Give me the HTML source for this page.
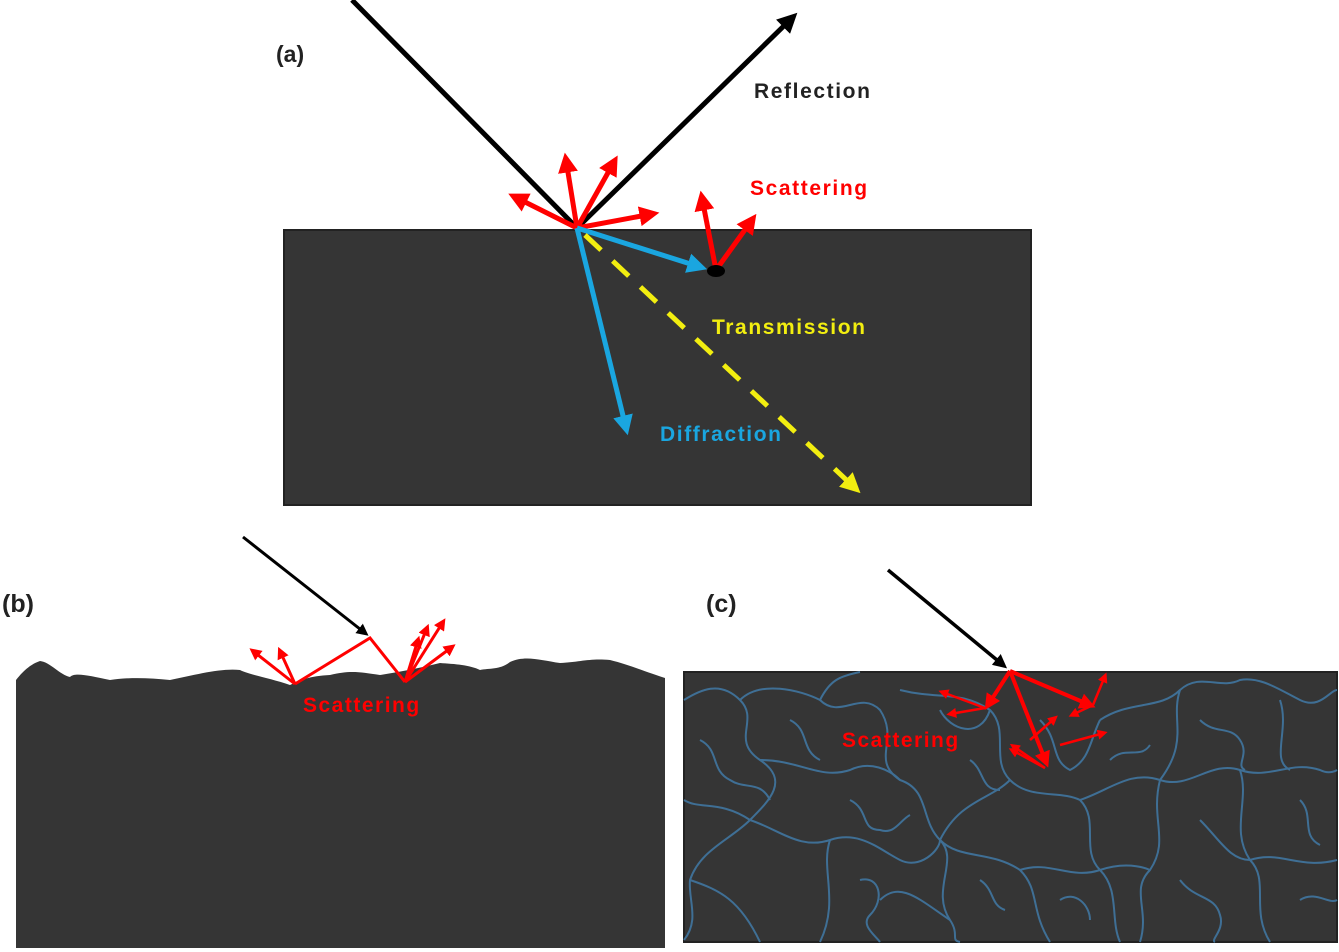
<!DOCTYPE html>
<html><head><meta charset="utf-8"><style>html,body{margin:0;padding:0;background:#fff}svg{display:block}text{font-family:"Liberation Sans","DejaVu Sans",sans-serif;font-weight:bold}</style></head><body>
<svg width="1339" height="952" viewBox="0 0 1339 952" xmlns="http://www.w3.org/2000/svg">
<defs>
<marker id="ak" markerWidth="4" markerHeight="4" refX="2.5" refY="2" orient="auto" markerUnits="strokeWidth"><path d="M0,0L4,2L0,4z" fill="#000"/></marker>
<marker id="ar" markerWidth="4" markerHeight="4" refX="2.5" refY="2" orient="auto" markerUnits="strokeWidth"><path d="M0,0L4,2L0,4z" fill="#f00"/></marker>
<marker id="ab" markerWidth="4" markerHeight="4" refX="2.5" refY="2" orient="auto" markerUnits="strokeWidth"><path d="M0,0L4,2L0,4z" fill="#1aa6e0"/></marker>
<marker id="ay" markerWidth="4" markerHeight="4" refX="2.5" refY="2" orient="auto" markerUnits="strokeWidth"><path d="M0,0L4,2L0,4z" fill="#f2ee10"/></marker>
</defs>
<!-- (a) -->
<rect x="284" y="230" width="747" height="275" fill="#353535" stroke="#222" stroke-width="2"/>
<text x="276" y="62" font-size="23" fill="#222">(a)</text>
<text x="754" y="98" font-size="21" letter-spacing="1.6" fill="#222">Reflection</text>
<text x="750" y="195" font-size="21" letter-spacing="1.6" fill="#f00">Scattering</text>
<text x="712" y="334" font-size="21" letter-spacing="1.6" fill="#f2ee10">Transmission</text>
<text x="660" y="441" font-size="21" letter-spacing="1.6" fill="#1aa6e0">Diffraction</text>
<line x1="352" y1="0" x2="577" y2="228" stroke="#000" stroke-width="5"/>
<line x1="577" y1="228" x2="792" y2="18" stroke="#000" stroke-width="5" marker-end="url(#ak)"/>
<g stroke="#f00" stroke-width="5" marker-end="url(#ar)">
<line x1="577" y1="228" x2="515" y2="197"/>
<line x1="577" y1="228" x2="566" y2="160"/>
<line x1="577" y1="228" x2="614" y2="162"/>
<line x1="577" y1="228" x2="652" y2="214"/>
<line x1="716" y1="270" x2="702" y2="198"/>
<line x1="716" y1="270" x2="752" y2="220"/>
</g>
<line x1="577" y1="228" x2="700" y2="267" stroke="#1aa6e0" stroke-width="5" marker-end="url(#ab)"/>
<line x1="577" y1="228" x2="626" y2="428" stroke="#1aa6e0" stroke-width="5" marker-end="url(#ab)"/>
<line x1="585" y1="235" x2="855" y2="488" stroke="#f2ee10" stroke-width="5" stroke-dasharray="22,16" marker-end="url(#ay)"/>
<ellipse cx="716" cy="271" rx="9" ry="6" fill="#000"/>
<!-- (b) -->
<text x="2" y="612" font-size="25" fill="#222">(b)</text>
<path d="M16,680 L16,948 L665,948 L665,678 C640,670 630,665 610,660 C590,658 580,662 560,663 C540,660 525,655 510,662 C500,670 490,668 480,670 C470,665 455,664 440,663 C420,668 400,672 380,675 C360,672 350,670 330,675 C310,676 300,680 290,685 C270,678 250,675 240,670 C220,668 195,675 170,680 C150,678 130,677 110,680 C90,676 75,672 70,677 C60,675 50,662 40,661 C28,665 20,675 16,680Z" fill="#353535"/>
<text x="303" y="712" font-size="21" letter-spacing="1.5" fill="#f00" font-weight="normal">Scattering</text>
<line x1="243" y1="537" x2="365" y2="633" stroke="#000" stroke-width="3" marker-end="url(#ak)"/>
<g stroke="#f00" stroke-width="3" fill="none">
<polyline points="295,684 370,638 405,682"/>
</g>
<g stroke="#f00" stroke-width="3" marker-end="url(#ar)">
<line x1="295" y1="684" x2="253" y2="651"/>
<line x1="295" y1="684" x2="280" y2="651"/>
<line x1="405" y1="682" x2="427" y2="628"/>
<line x1="405" y1="682" x2="443" y2="622"/>
<line x1="405" y1="682" x2="452" y2="647"/>
<line x1="405" y1="682" x2="418" y2="640"/>
</g>
<!-- (c) -->
<text x="706" y="612" font-size="25" fill="#222">(c)</text>
<rect x="684" y="672" width="653" height="270" fill="#353535" stroke="#222" stroke-width="2"/>
<g stroke="#3f6f95" stroke-width="2" fill="none">
<path d="M684,700 C700,690 720,680 740,700 C760,720 730,740 760,760 C790,780 770,800 750,820 C730,840 700,850 690,880 C688,900 700,920 684,940"/>
<path d="M740,700 C760,680 800,690 820,700 C840,720 860,690 880,710 C900,740 870,760 900,780 C930,790 920,820 940,840 C960,860 930,890 950,920 C960,935 950,940 960,942"/>
<path d="M760,760 C800,760 820,780 850,770 C870,760 890,770 900,780"/>
<path d="M750,820 C780,830 800,850 830,840 C860,830 880,850 900,860 C920,870 940,850 940,840"/>
<path d="M820,700 C830,680 840,676 860,672"/>
<path d="M900,690 C940,700 960,690 990,710 C1010,730 990,760 1010,780 C1030,800 1060,790 1080,800 C1100,820 1080,850 1100,870 C1120,890 1110,920 1120,942"/>
<path d="M1010,780 C990,800 960,800 940,840"/>
<path d="M830,840 C820,870 840,900 820,942"/>
<path d="M1080,800 C1110,790 1130,770 1160,780 C1190,790 1210,760 1240,770 C1270,780 1290,760 1320,770 C1330,775 1337,770 1337,770"/>
<path d="M1100,720 C1130,700 1160,710 1180,690 C1200,672 1220,690 1240,680 C1260,676 1280,690 1300,700 C1320,710 1330,690 1337,690"/>
<path d="M1180,690 C1170,720 1190,740 1160,780"/>
<path d="M1240,770 C1250,800 1230,830 1250,860 C1270,880 1250,910 1270,942"/>
<path d="M1160,780 C1150,820 1170,840 1150,870 C1130,890 1150,910 1140,942"/>
<path d="M1100,870 C1130,860 1150,870 1150,870"/>
<path d="M1250,860 C1280,850 1300,870 1337,860"/>
<path d="M940,840 C960,860 990,850 1020,870 C1040,890 1030,910 1050,942"/>
<path d="M1020,870 C1050,860 1070,880 1100,870"/>
<path d="M940,710 C950,730 980,740 990,710"/>
<path d="M1040,720 C1060,740 1050,760 1070,770 C1090,760 1090,740 1100,720"/>
<path d="M1280,700 C1290,730 1270,760 1290,770"/>
<path d="M684,800 C700,810 720,800 750,820"/>
<path d="M1200,820 C1220,840 1230,860 1250,860"/>
<path d="M690,880 C720,890 740,900 760,942"/>
<path d="M880,900 C900,880 920,900 950,920"/>
<path d="M700,740 C720,750 710,770 730,780 C745,790 760,780 770,800"/>
<path d="M790,720 C810,730 800,750 820,760"/>
<path d="M850,800 C870,810 860,830 880,830 C895,835 900,820 910,815"/>
<path d="M970,760 C985,770 980,790 1000,790"/>
<path d="M1110,760 C1125,745 1140,760 1150,745"/>
<path d="M1200,720 C1215,735 1230,725 1240,740 C1250,755 1235,765 1245,770"/>
<path d="M1300,800 C1315,815 1300,835 1320,845"/>
<path d="M1180,880 C1195,900 1215,895 1220,915 C1225,930 1210,940 1215,942"/>
<path d="M860,880 C880,875 885,900 870,915 C860,925 875,935 880,942"/>
<path d="M1060,900 C1075,890 1090,905 1090,920"/>
<path d="M980,880 C995,890 990,905 1005,910"/>
<path d="M1300,900 C1315,890 1330,905 1337,900"/>
</g>
<text x="842" y="747" font-size="21" letter-spacing="1.5" fill="#f00" font-weight="normal">Scattering</text>
<line x1="888" y1="570" x2="1003" y2="665" stroke="#000" stroke-width="3.5" marker-end="url(#ak)"/>
<g stroke="#f00" stroke-width="4" marker-end="url(#ar)">
<line x1="1010" y1="671" x2="988" y2="705"/>
<line x1="1010" y1="671" x2="1046" y2="762"/>
<line x1="1010" y1="671" x2="1090" y2="705"/>
</g>
<g stroke="#f00" stroke-width="2.5" marker-end="url(#ar)">
<line x1="985" y1="708" x2="942" y2="692"/>
<line x1="985" y1="708" x2="950" y2="714"/>
<line x1="1045" y1="768" x2="1013" y2="746"/>
<line x1="1045" y1="768" x2="1012" y2="750"/>
<line x1="1030" y1="740" x2="1055" y2="718"/>
<line x1="1060" y1="745" x2="1104" y2="733"/>
<line x1="1093" y1="705" x2="1105" y2="676"/>
<line x1="1093" y1="705" x2="1072" y2="715"/>
</g>
</svg>
</body></html>
